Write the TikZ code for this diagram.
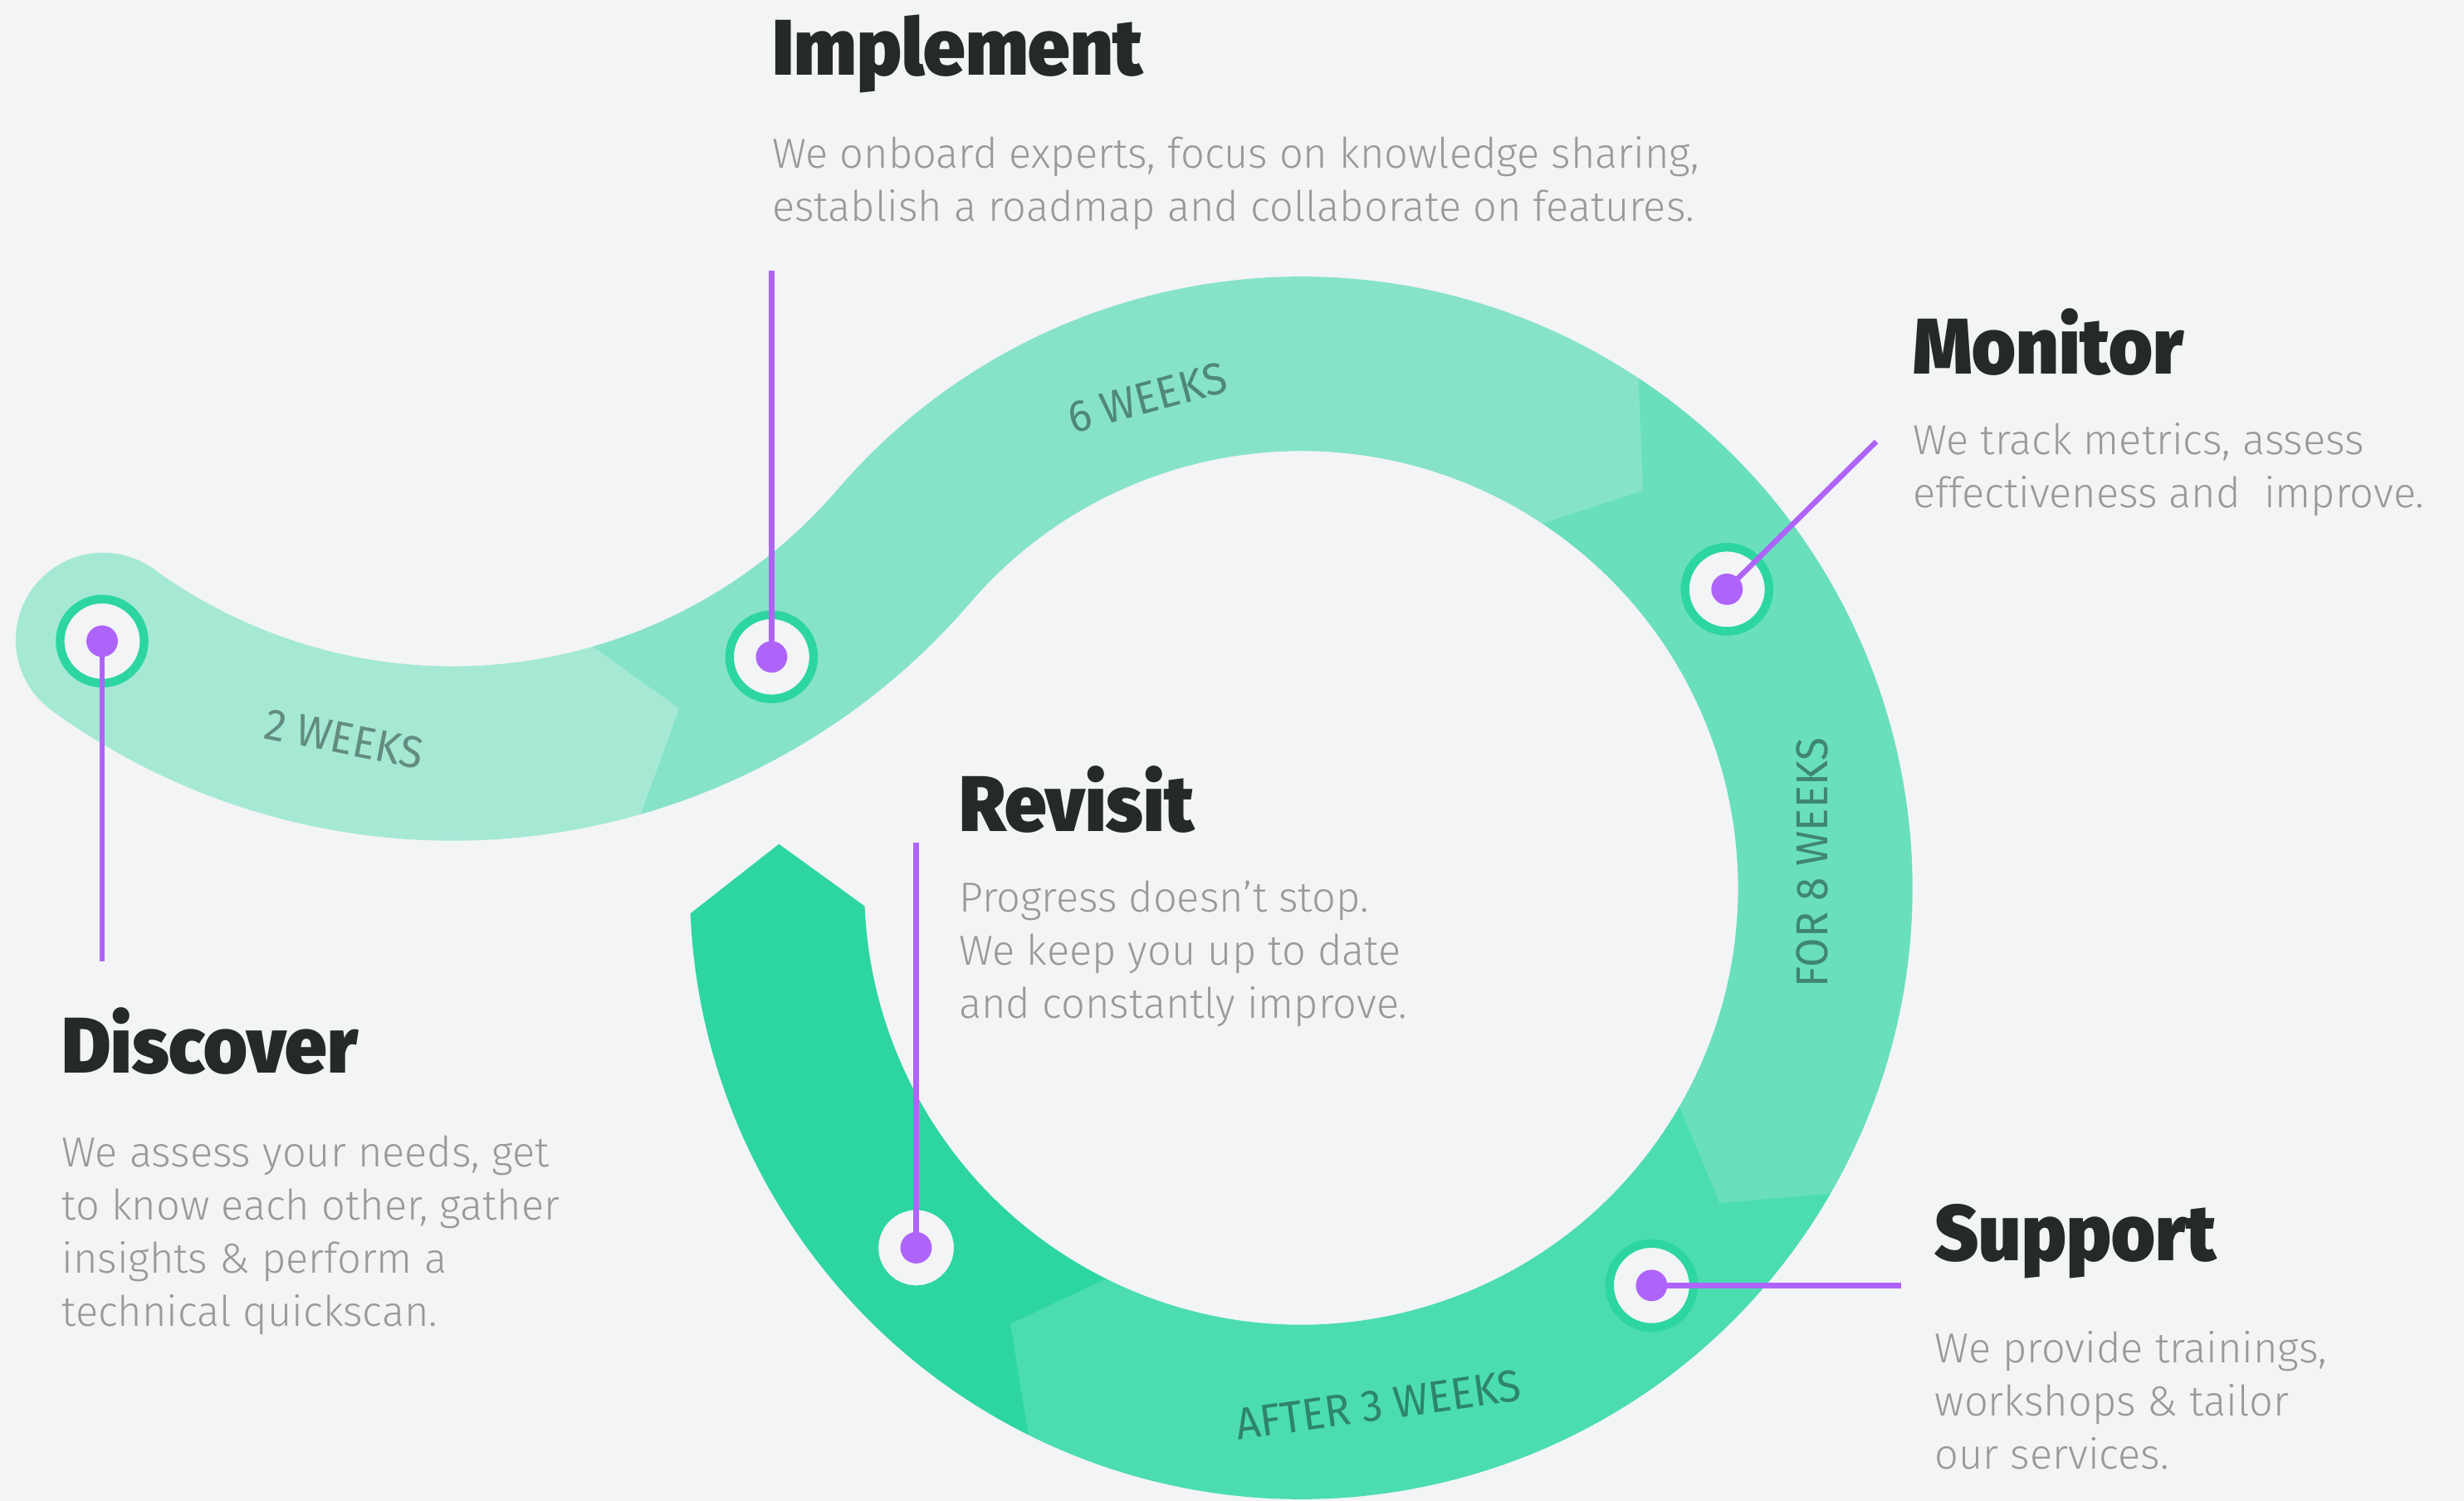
\documentclass[tikz,border=0pt]{standalone}
\usepackage{fontspec}
\usepackage{xcolor}
\usepackage{tikz}
\usetikzlibrary{calc}

\setmainfont{Fira Sans}
\newfontfamily\headfont{Fira Sans Black}[FakeStretch=0.95]
\newfontfamily\bodyfont{Fira Sans Light}
\newfontfamily\weekfont{Fira Sans}[FakeStretch=0.95]

\definecolor{paper}{HTML}{F3F4F6}
\definecolor{segA}{HTML}{A5E9D5}
\definecolor{segB}{HTML}{86E3C7}
\definecolor{segC}{HTML}{69DFBD}
\definecolor{segD}{HTML}{4BDDB0}
\definecolor{segE}{HTML}{2DD6A0}
\definecolor{violet}{HTML}{AE64F9}
\definecolor{ink}{HTML}{242A28}
\definecolor{greytext}{HTML}{999999}

\tikzset{
  ringmark/.style={circle, inner sep=0pt, minimum size=1.07cm, draw=segE, line width=0.11cm, fill=paper},
  dotmark/.style={circle, inner sep=0pt, minimum size=0.4cm, fill=violet},
  leadline/.style={violet, line width=0.068cm},
  steptitle/.style={anchor=base west, inner sep=0pt, text=ink, font=\headfont\fontsize{28.6}{34}\selectfont},
  stepbody/.style={anchor=base west, inner sep=0pt, align=left, text=greytext, font=\bodyfont\fontsize{15.2}{19.3}\selectfont},
  weeklabel/.style={inner sep=0pt, font=\weekfont\fontsize{16.2}{19}\selectfont},
}

\begin{document}
\begin{tikzpicture}[x=0.02cm, y=-0.02cm]
    \path[use as bounding box, fill=paper] (0,0) rectangle (1568,955);
    \coordinate (A) at (288,101);
    \coordinate (B) at (828,565);

    % the band, last piece first
    \fill[segE] ($(B)+(476.5:278)$) -- ($(B)+(476.5:389)$)
        arc[start angle=476.5, end angle=537.6, radius=389]
        -- ($(B)+(544.8:333.5)$) -- ($(B)+(537.6:278)$)
        arc[start angle=537.6, end angle=476.5, radius=278] -- cycle;
    \fill[segD] ($(B)+(390:278)$) -- ($(B)+(390:389)$)
        arc[start angle=390, end angle=476.5, radius=389]
        -- ($(B)+(483.7:333.5)$) -- ($(B)+(476.5:278)$)
        arc[start angle=476.5, end angle=390, radius=278] -- cycle;
    \fill[segC] ($(B)+(303.5:278)$) -- ($(B)+(303.5:389)$)
        arc[start angle=303.5, end angle=390, radius=389]
        -- ($(B)+(397:333.5)$) -- ($(B)+(390:278)$)
        arc[start angle=390, end angle=303.5, radius=278] -- cycle;
    \fill[segB] ($(A)+(74:323)$) -- ($(A)+(74:434)$)
        arc[start angle=74, end angle=40.67, radius=434]
        arc[start angle=220.67, end angle=303.5, radius=278]
        -- ($(B)+(310.7:333.5)$) -- ($(B)+(303.5:389)$)
        arc[start angle=303.5, end angle=220.67, radius=389]
        arc[start angle=40.67, end angle=74, radius=323] -- cycle;
    \fill[segA] ($(A)+(126:323)$) arc[start angle=126, end angle=74, radius=323]
        -- ($(A)+(67.6:378.5)$) -- ($(A)+(74:434)$)
        arc[start angle=74, end angle=126, radius=434]
        arc[start angle=126, end angle=306, radius=55.5] -- cycle;

    % durations
    \node[weeklabel, text=black!40!segA, rotate=-11] (two-weeks) at (219,470) {2 WEEKS};
    \node[weeklabel, text=black!40!segB, rotate=15] (six-weeks) at (730,253) {6 WEEKS};
    \node[weeklabel, text=black!40!segC, rotate=90] (eight-weeks) at (1153,549) {FOR 8 WEEKS};
    \node[weeklabel, text=black!40!segD, rotate=8] (three-weeks) at (877,894) {AFTER 3 WEEKS};

    % markers
    \node[ringmark] (discover) at (65,408) {};
    \node[ringmark] (implement) at (491,418) {};
    \node[ringmark] (monitor) at (1099,375) {};
    \node[ringmark] (support) at (1051,818) {};
    \node[ringmark] (revisit) at (583,794) {};

    \coordinate (discover-end) at (65,612);
    \coordinate (implement-end) at (491,172);
    \coordinate (monitor-end) at (1194,281);
    \coordinate (support-end) at (1210,818);
    \coordinate (revisit-end) at (583,536);
    \draw[leadline] (discover.center) -- (discover-end);
    \draw[leadline] (implement.center) -- (implement-end);
    \draw[leadline] (monitor.center) -- (monitor-end);
    \draw[leadline] (support.center) -- (support-end);
    \draw[leadline] (revisit.center) -- (revisit-end);

    \node[dotmark] (discover-dot) at (discover) {};
    \node[dotmark] (implement-dot) at (implement) {};
    \node[dotmark] (monitor-dot) at (monitor) {};
    \node[dotmark] (support-dot) at (support) {};
    \node[dotmark] (revisit-dot) at (revisit) {};

    % texts (body nodes sit on their last line)
    \node[steptitle] (implement-title) at (491,48) {Implement};
    \node[stepbody] (implement-text) at (491,141) {We onboard experts, focus on knowledge sharing,\\establish a roadmap and collaborate on features.};
    \node[steptitle] (monitor-title) at (1217,238) {Monitor};
    \node[stepbody] (monitor-text) at (1217,323) {We track metrics, assess\\effectiveness and\ \ improve.};
    \node[steptitle] (revisit-title) at (610,529) {Revisit};
    \node[stepbody] (revisit-text) at (610,648) {Progress doesn’t stop.\\We keep you up to date\\and constantly improve.};
    \node[steptitle] (discover-title) at (39,683) {Discover};
    \node[stepbody] (discover-text) at (39,844) {We assess your needs, get\\to know each other, gather\\insights \& perform a\\technical quickscan.};
    \node[steptitle] (support-title) at (1231,802) {Support};
    \node[stepbody] (support-text) at (1231,935) {We provide trainings,\\workshops \& tailor\\our services.};
\end{tikzpicture}
\end{document}
